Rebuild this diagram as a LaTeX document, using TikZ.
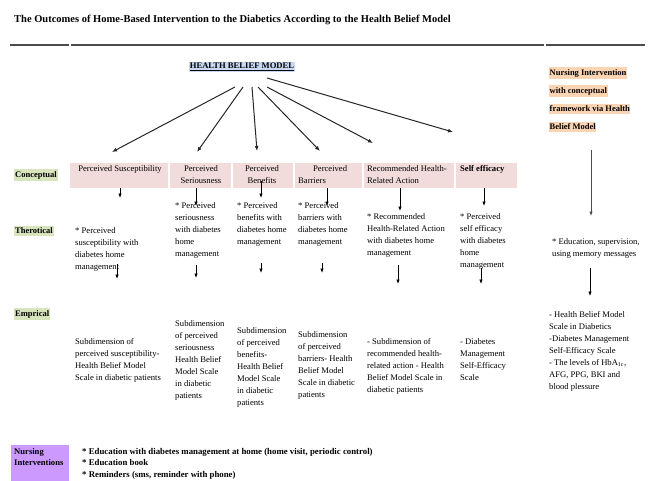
\documentclass[tikz,border=0pt]{standalone}
\usepackage{fontspec}
\setmainfont{Liberation Serif}
\usetikzlibrary{arrows.meta}

\definecolor{conceptpink}{HTML}{F2DCDB}
\definecolor{rowgreen}{HTML}{D7E4BC}
\definecolor{hbmblue}{HTML}{C6D9F1}
\definecolor{nursepeach}{HTML}{FBD4B4}
\definecolor{nursepurple}{HTML}{CC99FF}

\begin{document}
\begin{tikzpicture}[x=1pt,y=-1pt,
  body/.style={inner sep=0pt, anchor=north west, align=left,
    font=\fontsize{8.6}{12}\selectfont},
  rowlabel/.style={fill=rowgreen, inner xsep=1pt, inner ysep=2pt, anchor=west,
    font=\fontsize{8.5}{10}\selectfont\bfseries},
  cbox/.style={fill=conceptpink, inner sep=0pt, anchor=north west},
  peachline/.style={fill=nursepeach, inner xsep=0.5pt, inner ysep=2pt, anchor=west,
    font=\fontsize{8.5}{10}\selectfont\bfseries},
  hbmarrow/.style={line width=1pt, black!85, -{Latex[length=5pt,width=4pt]}},
  downarrow/.style={line width=0.7pt, -{Latex[length=4.5pt,width=3.5pt]}},
  rule/.style={line width=1.6pt, black!70},
]
\useasboundingbox (0,0) rectangle (672,480);
\clip (0,0) rectangle (672,480);

% title and header rules
\node[anchor=west, inner sep=0pt, font=\fontsize{10.5}{12}\selectfont\bfseries] (title) at (14,20)
  {The Outcomes of Home-Based Intervention to the Diabetics According to the Health Belief Model};
\coordinate (r1a) at (10,45);  \coordinate (r1b) at (69,45);
\coordinate (r2a) at (71,45);  \coordinate (r2b) at (544,45);
\coordinate (r3a) at (546,45); \coordinate (r3b) at (645,45);
\draw[rule] (r1a) -- (r1b);
\draw[rule] (r2a) -- (r2b);
\draw[rule] (r3a) -- (r3b);

% model heading
\node[fill=hbmblue, inner xsep=1pt, inner ysep=1.5pt, font=\fontsize{8.6}{10}\selectfont\bfseries] (hbm) at (242,67)
  {\underline{HEALTH BELIEF MODEL}};

% row labels
\node[rowlabel] (lconc) at (14,175) {Conceptual};
\node[rowlabel] (ltheo) at (14,231) {Therotical};
\node[rowlabel] (lemp) at (14,314) {Emprical};

% conceptual boxes
\node[cbox, minimum width=98pt, minimum height=25pt] (c1) at (70,163) {};
\node[cbox, minimum width=61pt, minimum height=25pt] (c2) at (170,163) {};
\node[cbox, minimum width=60pt, minimum height=25pt] (c3) at (233,163) {};
\node[cbox, minimum width=67pt, minimum height=25pt] (c4) at (295,163) {};
\node[cbox, minimum width=90pt, minimum height=25pt] (c5) at (364,163) {};
\node[cbox, minimum width=61pt, minimum height=25pt] (c6) at (456,163) {};

\node[body, anchor=north, align=center] (c1t) at (120,165.5) {Perceived Susceptibility};
\node[body, anchor=north, align=center] (c2t) at (201,165.5) {Perceived\\Seriousness};
\node[body, anchor=north, align=center] (c3t) at (262,165.5) {Perceived\\Benefits};
\node[body] (c4t) at (298,165.5) {\hspace*{15pt}Perceived\\Barriers};
\node[body] (c5t) at (367,165.5) {Recommended Health-\\Related Action};
\node[body, font=\fontsize{8.6}{12}\selectfont\bfseries] (c6t) at (460,165.5) {Self efficacy};

% arrows from the model heading
\coordinate (h1) at (235,87);  \coordinate (e1) at (112,152);
\coordinate (h2) at (243,87);  \coordinate (e2) at (197,152);
\coordinate (h3) at (252,87);  \coordinate (e3) at (257,151);
\coordinate (h4) at (258,87);  \coordinate (e4) at (320,151);
\coordinate (h5) at (267,87);  \coordinate (e5) at (373,143);
\coordinate (h6) at (267,78);  \coordinate (e6) at (453,132);
\draw[hbmarrow] (h1) -- (e1);
\draw[hbmarrow] (h2) -- (e2);
\draw[hbmarrow] (h3) -- (e3);
\draw[hbmarrow] (h4) -- (e4);
\draw[hbmarrow] (h5) -- (e5);
\draw[hbmarrow] (h6) -- (e6);

% theoretical row
\node[body] (t1) at (75,227.5) {* Perceived\\susceptibility with\\diabetes home\\management};
\node[body] (t2) at (175,202) {* Perceived\\seriousness\\with diabetes\\home\\management};
\node[body] (t3) at (237,202) {* Perceived\\benefits with\\diabetes home\\management};
\node[body] (t4) at (298,202) {* Perceived\\barriers with\\diabetes home\\management};
\node[body] (t5) at (367,213) {* Recommended\\Health-Related Action\\with diabetes home\\management};
\node[body] (t6) at (460,213) {* Perceived\\self efficacy\\with diabetes\\home\\management};
\node[body] (t7) at (552,238) {* Education, supervision,\\using memory messages};

% arrows conceptual -> theoretical
\coordinate (ca1) at (120,188); \coordinate (cb1) at (120,198);
\coordinate (ca2) at (196,188); \coordinate (cb2) at (196,206);
\coordinate (ca3) at (261,181); \coordinate (cb3) at (261,198);
\coordinate (ca4) at (327,188); \coordinate (cb4) at (327,206);
\coordinate (ca5) at (400,188); \coordinate (cb5) at (400,211);
\coordinate (ca6) at (484,188); \coordinate (cb6) at (484,206);
\draw[downarrow] (ca1) -- (cb1);
\draw[downarrow] (ca2) -- (cb2);
\draw[downarrow] (ca3) -- (cb3);
\draw[downarrow] (ca4) -- (cb4);
\draw[downarrow] (ca5) -- (cb5);
\draw[downarrow] (ca6) -- (cb6);

% arrows theoretical -> empirical
\coordinate (ta1) at (117,264); \coordinate (tb1) at (117,279);
\coordinate (ta2) at (196,265); \coordinate (tb2) at (196,278);
\coordinate (ta3) at (261,263); \coordinate (tb3) at (261,273);
\coordinate (ta4) at (322,263); \coordinate (tb4) at (322,273);
\coordinate (ta5) at (398,265); \coordinate (tb5) at (398,284);
\coordinate (ta6) at (481,268); \coordinate (tb6) at (481,284);
\coordinate (ta7) at (590,268); \coordinate (tb7) at (590,296);
\draw[downarrow] (ta1) -- (tb1);
\draw[downarrow] (ta2) -- (tb2);
\draw[downarrow] (ta3) -- (tb3);
\draw[downarrow] (ta4) -- (tb4);
\draw[downarrow] (ta5) -- (tb5);
\draw[downarrow] (ta6) -- (tb6);
\draw[downarrow] (ta7) -- (tb7);

% empirical row
\node[body] (m1) at (75,338) {Subdimension of\\perceived susceptibility-\\Health Belief Model\\Scale in diabetic patients};
\node[body] (m2) at (175,320) {Subdimension\\of perceived\\seriousness\\Health Belief\\Model Scale\\in diabetic\\patients};
\node[body] (m3) at (237,327) {Subdimension\\of perceived\\benefits-\\Health Belief\\Model Scale\\in diabetic\\patients};
\node[body] (m4) at (298,331) {Subdimension\\of perceived\\barriers- Health\\Belief Model\\Scale in diabetic\\patients};
\node[body] (m5) at (367,338) {- Subdimension of\\recommended health-\\related action - Health\\Belief Model Scale in\\diabetic patients};
\node[body] (m6) at (460,338) {- Diabetes\\Management\\Self-Efficacy\\Scale};
\node[body] (m7) at (549,311) {- Health Belief Model\\Scale in Diabetics\\-Diabetes Management\\Self-Efficacy Scale\\- The levels of HbA\textsubscript{1c},\\AFG, PPG, BKI and\\blood plessure};

% nursing intervention column
\node[peachline] (n1) at (549,73) {Nursing Intervention};
\node[peachline] (n2) at (549,91) {with conceptual};
\node[peachline] (n3) at (549,109) {framework via Health};
\node[peachline] (n4) at (549,127) {Belief Model};
\coordinate (na) at (591,150); \coordinate (nb) at (591,216);
\draw[downarrow, black!70] (na) -- (nb);

% nursing interventions list
\node[fill=nursepurple, anchor=north west, minimum width=58pt, minimum height=40pt, inner sep=0pt] (ni) at (11,445) {};
\node[body, font=\fontsize{8.6}{11.5}\selectfont\bfseries] (nit) at (14,448) {Nursing\\Interventions};
\node[body, font=\fontsize{8.8}{11.5}\selectfont\bfseries] (nil) at (82,448)
  {* Education with diabetes management at home (home visit, periodic control)\\* Education book\\* Reminders (sms, reminder with phone)};
\end{tikzpicture}
\end{document}
